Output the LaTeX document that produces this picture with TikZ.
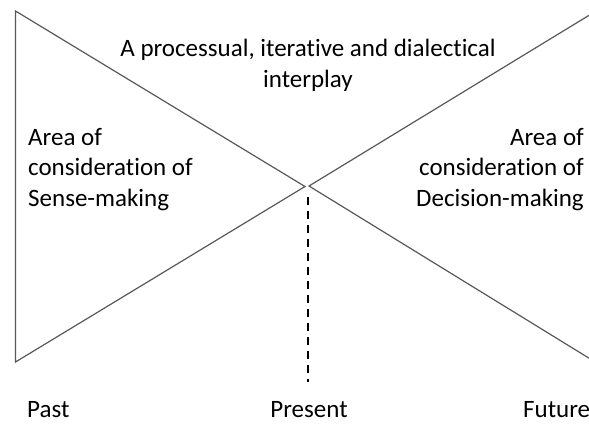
\documentclass[tikz,border=0pt]{standalone}
\usepackage{fontspec}
\setmainfont{Carlito}[Ligatures={NoCommon}]
\begin{document}
\begin{tikzpicture}[x=1bp,y=-1bp,
  tri/.style={draw=black!65, line width=1.2bp, line join=miter},
  dashline/.style={draw=black, line width=2.6bp, dash pattern=on 8bp off 6bp},
  lbl/.style={font=\fontsize{25bp}{30.5bp}\selectfont, inner sep=0pt, text=black}]
\useasboundingbox (0,0) rectangle (589,424);
\clip (0,0) rectangle (589,424);
\fill[white] (0,0) rectangle (589,424);
\coordinate (LT) at (15.5,11);
\coordinate (LB) at (15.5,362);
\coordinate (LA) at (305,186.5);
\coordinate (RA) at (309,186);
\coordinate (RT) at (592,13.5);
\coordinate (RB) at (592,360);
\coordinate (DT) at (308,197);
\coordinate (DB) at (308,382);
\draw[tri] (LT) -- (LA) -- (LB) -- cycle;
\draw[tri] (RT) -- (RA) -- (RB);
\draw[dashline] (DT) -- (DB);
\node[lbl, anchor=base west, align=left] (sense) at (28,206) {Area of\\consideration of\\Sense-making};
\node[lbl, anchor=base east, align=right] (decision) at (584,206) {Area of\\consideration of\\Decision-making};
\node[lbl, anchor=base, align=center] (interplay) at (308,87) {A processual, iterative and dialectical\\interplay};
\node[lbl, anchor=base west] (past) at (27,417) {Past};
\node[lbl, anchor=base] (present) at (309,417) {Present};
\node[lbl, anchor=base west] (future) at (523,417) {Future};
\end{tikzpicture}
\end{document}
